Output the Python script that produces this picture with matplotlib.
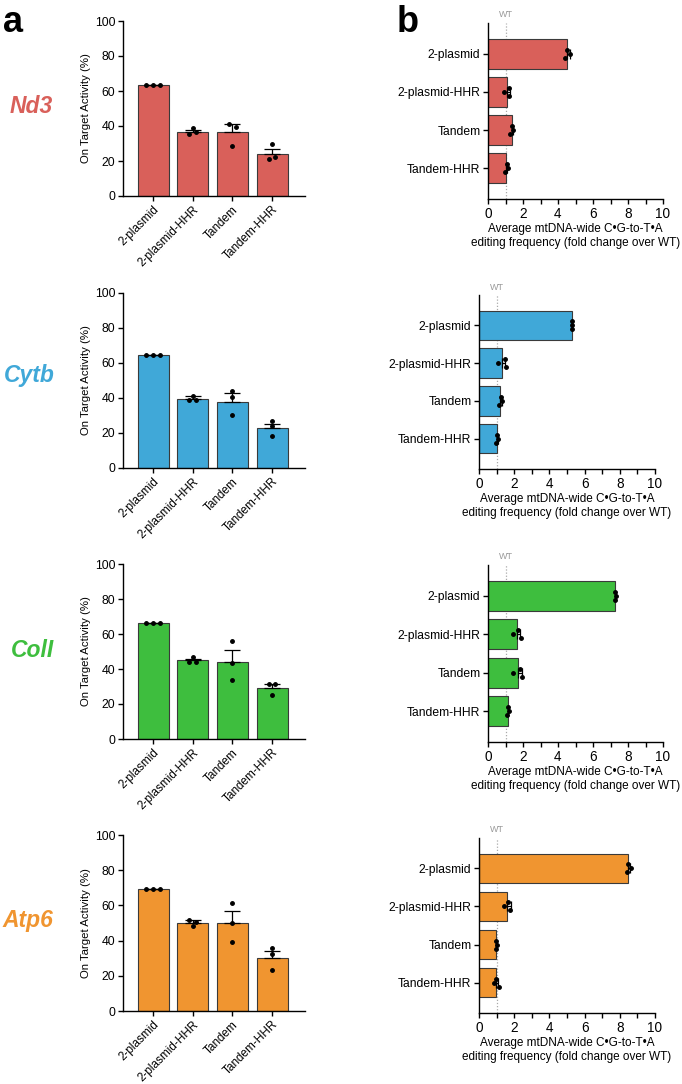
import matplotlib
matplotlib.use('Agg')
import matplotlib.pyplot as plt
import matplotlib.transforms as mtransforms
import numpy as np

plt.rcParams['font.family'] = ['Liberation Sans', 'DejaVu Sans']

groups = ['2-plasmid', '2-plasmid-HHR', 'Tandem', 'Tandem-HHR']
genes = ['Nd3', 'Cytb', 'ColI', 'Atp6']
colors = ['#D9605A', '#40A8D8', '#3EBE3E', '#F09530']

# panel a: on target activity (%)
on_nd3 = [63.2, 36.8, 36.5, 24.2]
on_cytb = [64.4, 39.7, 37.8, 22.8]
on_coli = [66.2, 44.9, 43.9, 29.1]
on_atp6 = [69.3, 49.8, 50.2, 29.9]
on_sem_nd3 = [0.2, 1.2, 4.5, 2.6]
on_sem_cytb = [0.2, 1.2, 4.8, 2.5]
on_sem_coli = [0.2, 0.9, 6.9, 2.3]
on_sem_atp6 = [0.2, 1.7, 6.6, 4.0]
on_dots_nd3 = [[63.2, 63.2, 63.2], [39.0, 35.4, 36.3], [41.1, 39.5, 28.5], [29.5, 20.9, 22.4]]
on_dots_cytb = [[64.3, 64.3, 64.3], [41.4, 38.6, 38.6], [44.1, 40.5, 30.0], [27.0, 23.8, 18.4]]
on_dots_coli = [[66.2, 66.2, 66.2], [46.8, 43.9, 43.9], [55.9, 43.2, 33.7], [31.2, 31.2, 25.3]]
on_dots_atp6 = [[69.3, 69.3, 69.3], [51.5, 50.8, 48.1], [61.2, 50.2, 39.2], [35.6, 32.2, 23.1]]

# panel b: genome-wide editing, fold change over WT
off_nd3 = [4.53, 1.10, 1.37, 1.05]
off_cytb = [5.29, 1.33, 1.22, 1.02]
off_coli = [7.27, 1.63, 1.71, 1.12]
off_atp6 = [8.48, 1.61, 0.97, 0.97]
off_sem_nd3 = [0.15, 0.17, 0.08, 0.06]
off_sem_cytb = [0.02, 0.16, 0.07, 0.04]
off_sem_coli = [0.04, 0.20, 0.22, 0.03]
off_sem_atp6 = [0.12, 0.20, 0.02, 0.09]
off_dots_nd3 = [[4.51, 4.70, 4.38], [1.18, 0.90, 1.22], [1.39, 1.41, 1.28], [1.07, 1.12, 0.97]]
off_dots_cytb = [[5.30, 5.28, 5.31], [1.50, 1.06, 1.56], [1.25, 1.33, 1.16], [1.02, 1.10, 0.97]]
off_dots_coli = [[7.27, 7.32, 7.25], [1.73, 1.40, 1.86], [1.82, 1.44, 1.95], [1.12, 1.18, 1.10]]
off_dots_atp6 = [[8.44, 8.63, 8.43], [1.67, 1.44, 1.78], [0.97, 1.02, 0.97], [0.97, 0.87, 1.14]]

on_means = [on_nd3, on_cytb, on_coli, on_atp6]
on_sems = [on_sem_nd3, on_sem_cytb, on_sem_coli, on_sem_atp6]
on_dots = [on_dots_nd3, on_dots_cytb, on_dots_coli, on_dots_atp6]
off_means = [off_nd3, off_cytb, off_coli, off_atp6]
off_sems = [off_sem_nd3, off_sem_cytb, off_sem_coli, off_sem_atp6]
off_dots = [off_dots_nd3, off_dots_cytb, off_dots_coli, off_dots_atp6]


def swarm(vals, px_per_unit, gap, step):
    # group values that sit close together (in pixels) and spread them sideways
    order = np.argsort(vals, kind='stable')
    clusters = []
    for i in order:
        if clusters and (vals[i] - vals[clusters[-1][-1]]) * px_per_unit < gap:
            clusters[-1].append(i)
        else:
            clusters.append([i])
    offs = np.zeros(len(vals))
    for c in clusters:
        c = sorted(c)
        n = len(c)
        for k, i in enumerate(c):
            offs[i] = (k - (n - 1) / 2) * step
    return offs


W, H = 682, 1084
fig = plt.figure(figsize=(W / 100, H / 100), dpi=100)

left_rows = [(21, 196), (293, 468), (564, 739), (835, 1011)]
right_rows = [(488, 663, 23, 199), (479, 655, 295, 469), (488, 663, 565, 742), (479, 655, 838, 1013)]
label_pos = [(31, 113), (29, 382), (33, 657), (28, 927)]

x = np.arange(4)
for r in range(4):
    col = colors[r]
    # ---- left: vertical bars
    t, b = left_rows[r]
    ax = fig.add_axes([123 / W, 1 - b / H, 182 / W, (b - t) / H])
    ax.set_xlim(-0.76, 3.83)
    ax.set_ylim(0, 100)
    ax.bar(x, on_means[r], width=0.78, color=col, edgecolor='#3a3a3a', linewidth=0.8, zorder=2)
    ax.errorbar(x, on_means[r], yerr=[np.zeros(4), on_sems[r]], fmt='none', ecolor='black',
                elinewidth=0.9, capsize=5.5, capthick=0.9, zorder=3)
    pxu_v = ax.bbox.height / 100
    pxu_c = ax.bbox.width / 4.59
    for i in range(4):
        vals = np.array(on_dots[r][i])
        offs = swarm(vals, pxu_v, 4.0, 6.7) / pxu_c
        ax.plot(x[i] + offs, vals, 'o', color='black', ms=2.5, ls='none', zorder=4)
    ax.set_yticks(range(0, 101, 20))
    ax.set_xticks(x)
    ax.set_xticklabels(groups, rotation=45, ha='right', rotation_mode='anchor', fontsize=8.5)
    ax.set_ylabel('On Target Activity (%)', fontsize=8.2, labelpad=3)
    ax.tick_params(axis='y', labelsize=8.8, length=3.5, width=1.0, pad=2)
    ax.tick_params(axis='x', length=3.5, width=1.0, pad=2)
    for s in ['top', 'right']:
        ax.spines[s].set_visible(False)
    for s in ['left', 'bottom']:
        ax.spines[s].set_linewidth(1.0)

    fig.text(label_pos[r][0] / W, 1 - label_pos[r][1] / H, genes[r], ha='center', va='baseline',
             fontsize=16.5, fontweight='bold', fontstyle='italic', color=col)

    # ---- right: horizontal bars
    x0, x1, t, b = right_rows[r]
    ax2 = fig.add_axes([x0 / W, 1 - b / H, (x1 - x0) / W, (b - t) / H])
    ax2.set_xlim(0, 10)
    ax2.set_ylim(3.8, -0.8)
    ax2.axvline(1, color='#aaaaaa', ls=(0, (1, 1.5)), lw=0.9, zorder=1)
    ax2.barh(x, off_means[r], height=0.78, color=col, edgecolor='#3a3a3a', linewidth=0.8, zorder=2)
    ax2.errorbar(off_means[r], x, xerr=[np.zeros(4), off_sems[r]], fmt='none', ecolor='black',
                 elinewidth=0.9, capsize=3.4, capthick=0.9, zorder=3)
    pxu_v = ax2.bbox.width / 10
    pxu_c = ax2.bbox.height / 4.6
    for i in range(4):
        vals = np.array(off_dots[r][i])
        offs = swarm(vals, pxu_v, 1000, 4.0) / pxu_c
        ax2.plot(vals, x[i] + offs, 'o', color='black', ms=2.5, ls='none', zorder=4)
    trans = mtransforms.blended_transform_factory(ax2.transData, ax2.transAxes)
    ax2.text(1, 1.02, 'WT', transform=trans, ha='center', va='bottom', fontsize=6.5, color='#999999')
    ax2.set_yticks(x)
    ax2.set_yticklabels(groups, fontsize=8.7)
    ax2.set_xticks(range(0, 11, 2))
    ax2.set_xticks(range(0, 11), minor=True)
    ax2.tick_params(axis='x', which='both', labelsize=9.8, length=3.5, width=1.0, pad=2)
    ax2.tick_params(axis='y', length=3.5, width=1.0, pad=2)
    ax2.set_xlabel('Average mtDNA-wide C\u2022G-to-T\u2022A\nediting frequency (fold change over WT)',
                   fontsize=8.5, labelpad=2, linespacing=1.15)
    for s in ['top', 'right']:
        ax2.spines[s].set_visible(False)
    for s in ['left', 'bottom']:
        ax2.spines[s].set_linewidth(1.0)

fig.text(3 / W, 1 - 32 / H, 'a', fontsize=26, fontweight='bold', va='baseline', ha='left')
fig.text(397 / W, 1 - 32 / H, 'b', fontsize=26, fontweight='bold', va='baseline', ha='left')

fig.savefig('out.png', dpi=100)
